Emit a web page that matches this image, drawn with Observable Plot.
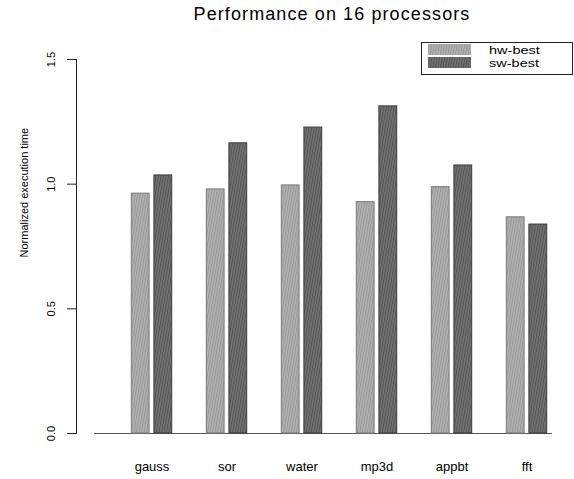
<!DOCTYPE html>
<html>
<head>
<meta charset="utf-8">
<script src="https://cdn.jsdelivr.net/npm/d3@7"></script>
<script src="https://cdn.jsdelivr.net/npm/@observablehq/plot@0.6"></script>
<style>
  html, body { margin: 0; padding: 0; background: #fff; }
  #wrap { position: relative; width: 574px; height: 479px; font-family: "Liberation Sans", Arial, sans-serif; }
  #title { position: absolute; left: 94px; width: 476px; top: 4px; text-align: center; font-size: 18px; letter-spacing: 1.1px; color: #000; }
  svg { overflow: visible; }
</style>
</head>
<body>
<div id="wrap">
  <div id="title">Performance on 16 processors</div>
</div>
<script>
const categories = ["gauss", "sor", "water", "mp3d", "appbt", "fft"];
const hwBest = [0.962, 0.979, 0.995, 0.928, 0.988, 0.867];
const swBest = [1.035, 1.164, 1.227, 1.312, 1.075, 0.838];
const seriesNames = ["hw-best", "sw-best"];
const yTicks = [0, 0.5, 1.0, 1.5];

const rows = categories.flatMap((c, i) => [
  {cat: c, series: seriesNames[0], value: hwBest[i]},
  {cat: c, series: seriesNames[1], value: swBest[i]}
]);

const fills = {"hw-best": "url(#patHw)", "sw-best": "url(#patSw)"};
const strokes = {"hw-best": "#7a7a7a", "sw-best": "#3a3a3a"};

const chart = Plot.plot({
  width: 574,
  height: 479,
  marginLeft: 76,
  marginRight: 8,
  marginTop: 59,
  marginBottom: 46,
  style: {fontFamily: "'Liberation Sans', Arial, sans-serif", background: "#fff", color: "#000"},
  x: {type: "band", domain: categories, range: [111.8, 565.8], padding: 0},
  y: {domain: [0, 1.5]},
  marks: [
    Plot.ruleY([0], {stroke: "#555", strokeWidth: 1, insetLeft: 18, insetRight: 14}),
    Plot.barY(rows.filter(d => d.series === "hw-best"), {
      x: "cat", y: "value", fill: fills["hw-best"], stroke: strokes["hw-best"], strokeWidth: 1,
      insetLeft: 28.6, insetRight: 28.6, dx: -11.3
    }),
    Plot.barY(rows.filter(d => d.series === "sw-best"), {
      x: "cat", y: "value", fill: fills["sw-best"], stroke: strokes["sw-best"], strokeWidth: 1,
      insetLeft: 28.6, insetRight: 28.6, dx: 11.3
    }),
    Plot.frame({anchor: "left", stroke: "#222"}),
    Plot.axisY({ticks: yTicks, tickFormat: d3.format(".1f"), tickSize: 9, tickRotate: -90, tickPadding: 13, fontSize: 11, label: null, stroke: "#222"}),
    Plot.axisX({tickSize: 0, tickPadding: 28, fontSize: 13, label: null, style: {letterSpacing: "0.7px"}}),
    Plot.text(["Normalized execution time"], {frameAnchor: "left", rotate: -90, dx: -52, dy: 11, fontSize: 11, fill: "#000"})
  ]
});

// pattern definitions for the hatched fills
const svg = d3.select(chart);
const defs = svg.insert("defs", ":first-child");
function pattern(id, base, line) {
  const p = defs.append("pattern").attr("id", id).attr("patternUnits", "userSpaceOnUse")
    .attr("width", 2.5).attr("height", 3).attr("patternTransform", "rotate(10)");
  p.append("rect").attr("width", 2.5).attr("height", 3).attr("fill", base);
  p.append("rect").attr("width", 1).attr("height", 3).attr("fill", line);
}
pattern("patHw", "#afafaf", "#9a9a9a");
pattern("patSw", "#717171", "#575757");

// legend
const lg = svg.append("g").attr("class", "legend").attr("text-anchor", "start");
lg.append("rect").attr("x", 421.5).attr("y", 42.5).attr("width", 151).attr("height", 32)
  .attr("fill", "#fff").attr("stroke", "#222");
seriesNames.forEach((s, i) => {
  lg.append("rect").attr("x", 428).attr("y", 44 + i * 13).attr("width", 43).attr("height", 11)
    .attr("fill", fills[s]).attr("stroke", "none");
  lg.append("text").attr("transform", `translate(489,${53.5 + i * 13}) scale(1.32,1)`)
    .attr("font-size", 11).attr("fill", "#000").text(s);
});

document.getElementById("wrap").appendChild(chart);
</script>
</body>
</html>
